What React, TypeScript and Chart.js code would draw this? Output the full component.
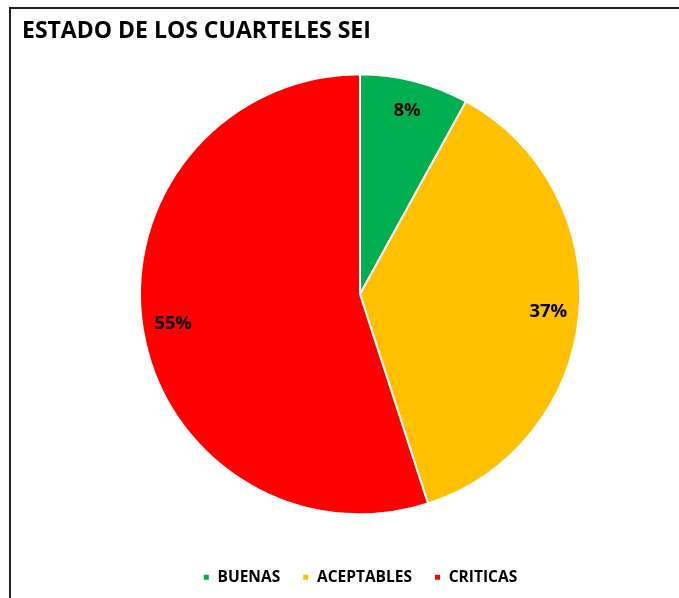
import React, { useEffect, useRef } from "react";
import { Chart, registerables } from "chart.js";

Chart.register(...registerables);

const title = "ESTADO DE LOS CUARTELES SEI";
const categories = ["BUENAS", "ACEPTABLES", "CRITICAS"];
const values = [8, 37, 55];
const colors = ["#00B050", "#FFC000", "#FF0000"];
const FONT = "'Open Sans', Lato, sans-serif";

const titlePlugin = {
  id: "customTitle",
  afterDraw(chart: any) {
    const ctx = chart.ctx;
    ctx.save();
    ctx.font = `bold 23px ${FONT}`;
    ctx.fillStyle = "#000";
    ctx.textAlign = "left";
    ctx.textBaseline = "middle";
    ctx.fillText(title, 22, 31);
    ctx.restore();
  },
};

const labelPlugin = {
  id: "pctLabels",
  afterDatasetsDraw(chart: any) {
    const ctx = chart.ctx;
    const meta = chart.getDatasetMeta(0);
    const data = chart.data.datasets[0].data as number[];
    const total = data.reduce((a, b) => a + b, 0);
    ctx.save();
    ctx.font = `bold 18.5px ${FONT}`;
    ctx.fillStyle = "#000";
    ctx.textAlign = "center";
    ctx.textBaseline = "middle";
    meta.data.forEach((arc: any, i: number) => {
      const p = arc.getProps(["startAngle", "endAngle", "x", "y", "outerRadius"], true);
      const mid = (p.startAngle + p.endAngle) / 2;
      const r = p.outerRadius * 0.86;
      const pct = Math.round((data[i] / total) * 100) + "%";
      ctx.fillText(pct, p.x + Math.cos(mid) * r, p.y + Math.sin(mid) * r);
    });
    ctx.restore();
  },
};

export default function App() {
  const ref = useRef<HTMLCanvasElement>(null);
  useEffect(() => {
    if (!ref.current) return;
    const chart = new Chart(ref.current, {
      type: "pie",
      data: {
        labels: categories,
        datasets: [
          {
            data: values,
            backgroundColor: colors,
            borderColor: "#ffffff",
            borderWidth: 2,
            radius: 220,
          } as any,
        ],
      },
      options: {
        animation: false,
        responsive: false,
        maintainAspectRatio: false,
        layout: { padding: { left: 41, right: 0, top: 41, bottom: 3 } },
        plugins: {
          title: { display: false },
          tooltip: { enabled: false },
          legend: {
            display: true,
            position: "bottom",
            labels: {
              boxWidth: 7,
              boxHeight: 7,
              padding: 22,
              color: "#000",
              font: { family: FONT, size: 15.5, weight: "bold" },
            },
          },
        },
      },
      plugins: [titlePlugin, labelPlugin],
    });
    return () => chart.destroy();
  }, []);

  return (
    <div
      style={{
        position: "absolute",
        left: 0,
        top: 0,
        width: 679,
        height: 598,
        overflow: "hidden",
        background: "#fff",
      }}
    >
      <div
        style={{
          position: "absolute",
          left: 9,
          top: 7,
          width: 700,
          height: 620,
          borderTop: "2px solid #222",
          borderLeft: "2px solid #222",
        }}
      />
      <canvas
        ref={ref}
        width={679}
        height={598}
        style={{ position: "absolute", left: 0, top: 0, width: 679, height: 598 }}
      />
    </div>
  );
}
